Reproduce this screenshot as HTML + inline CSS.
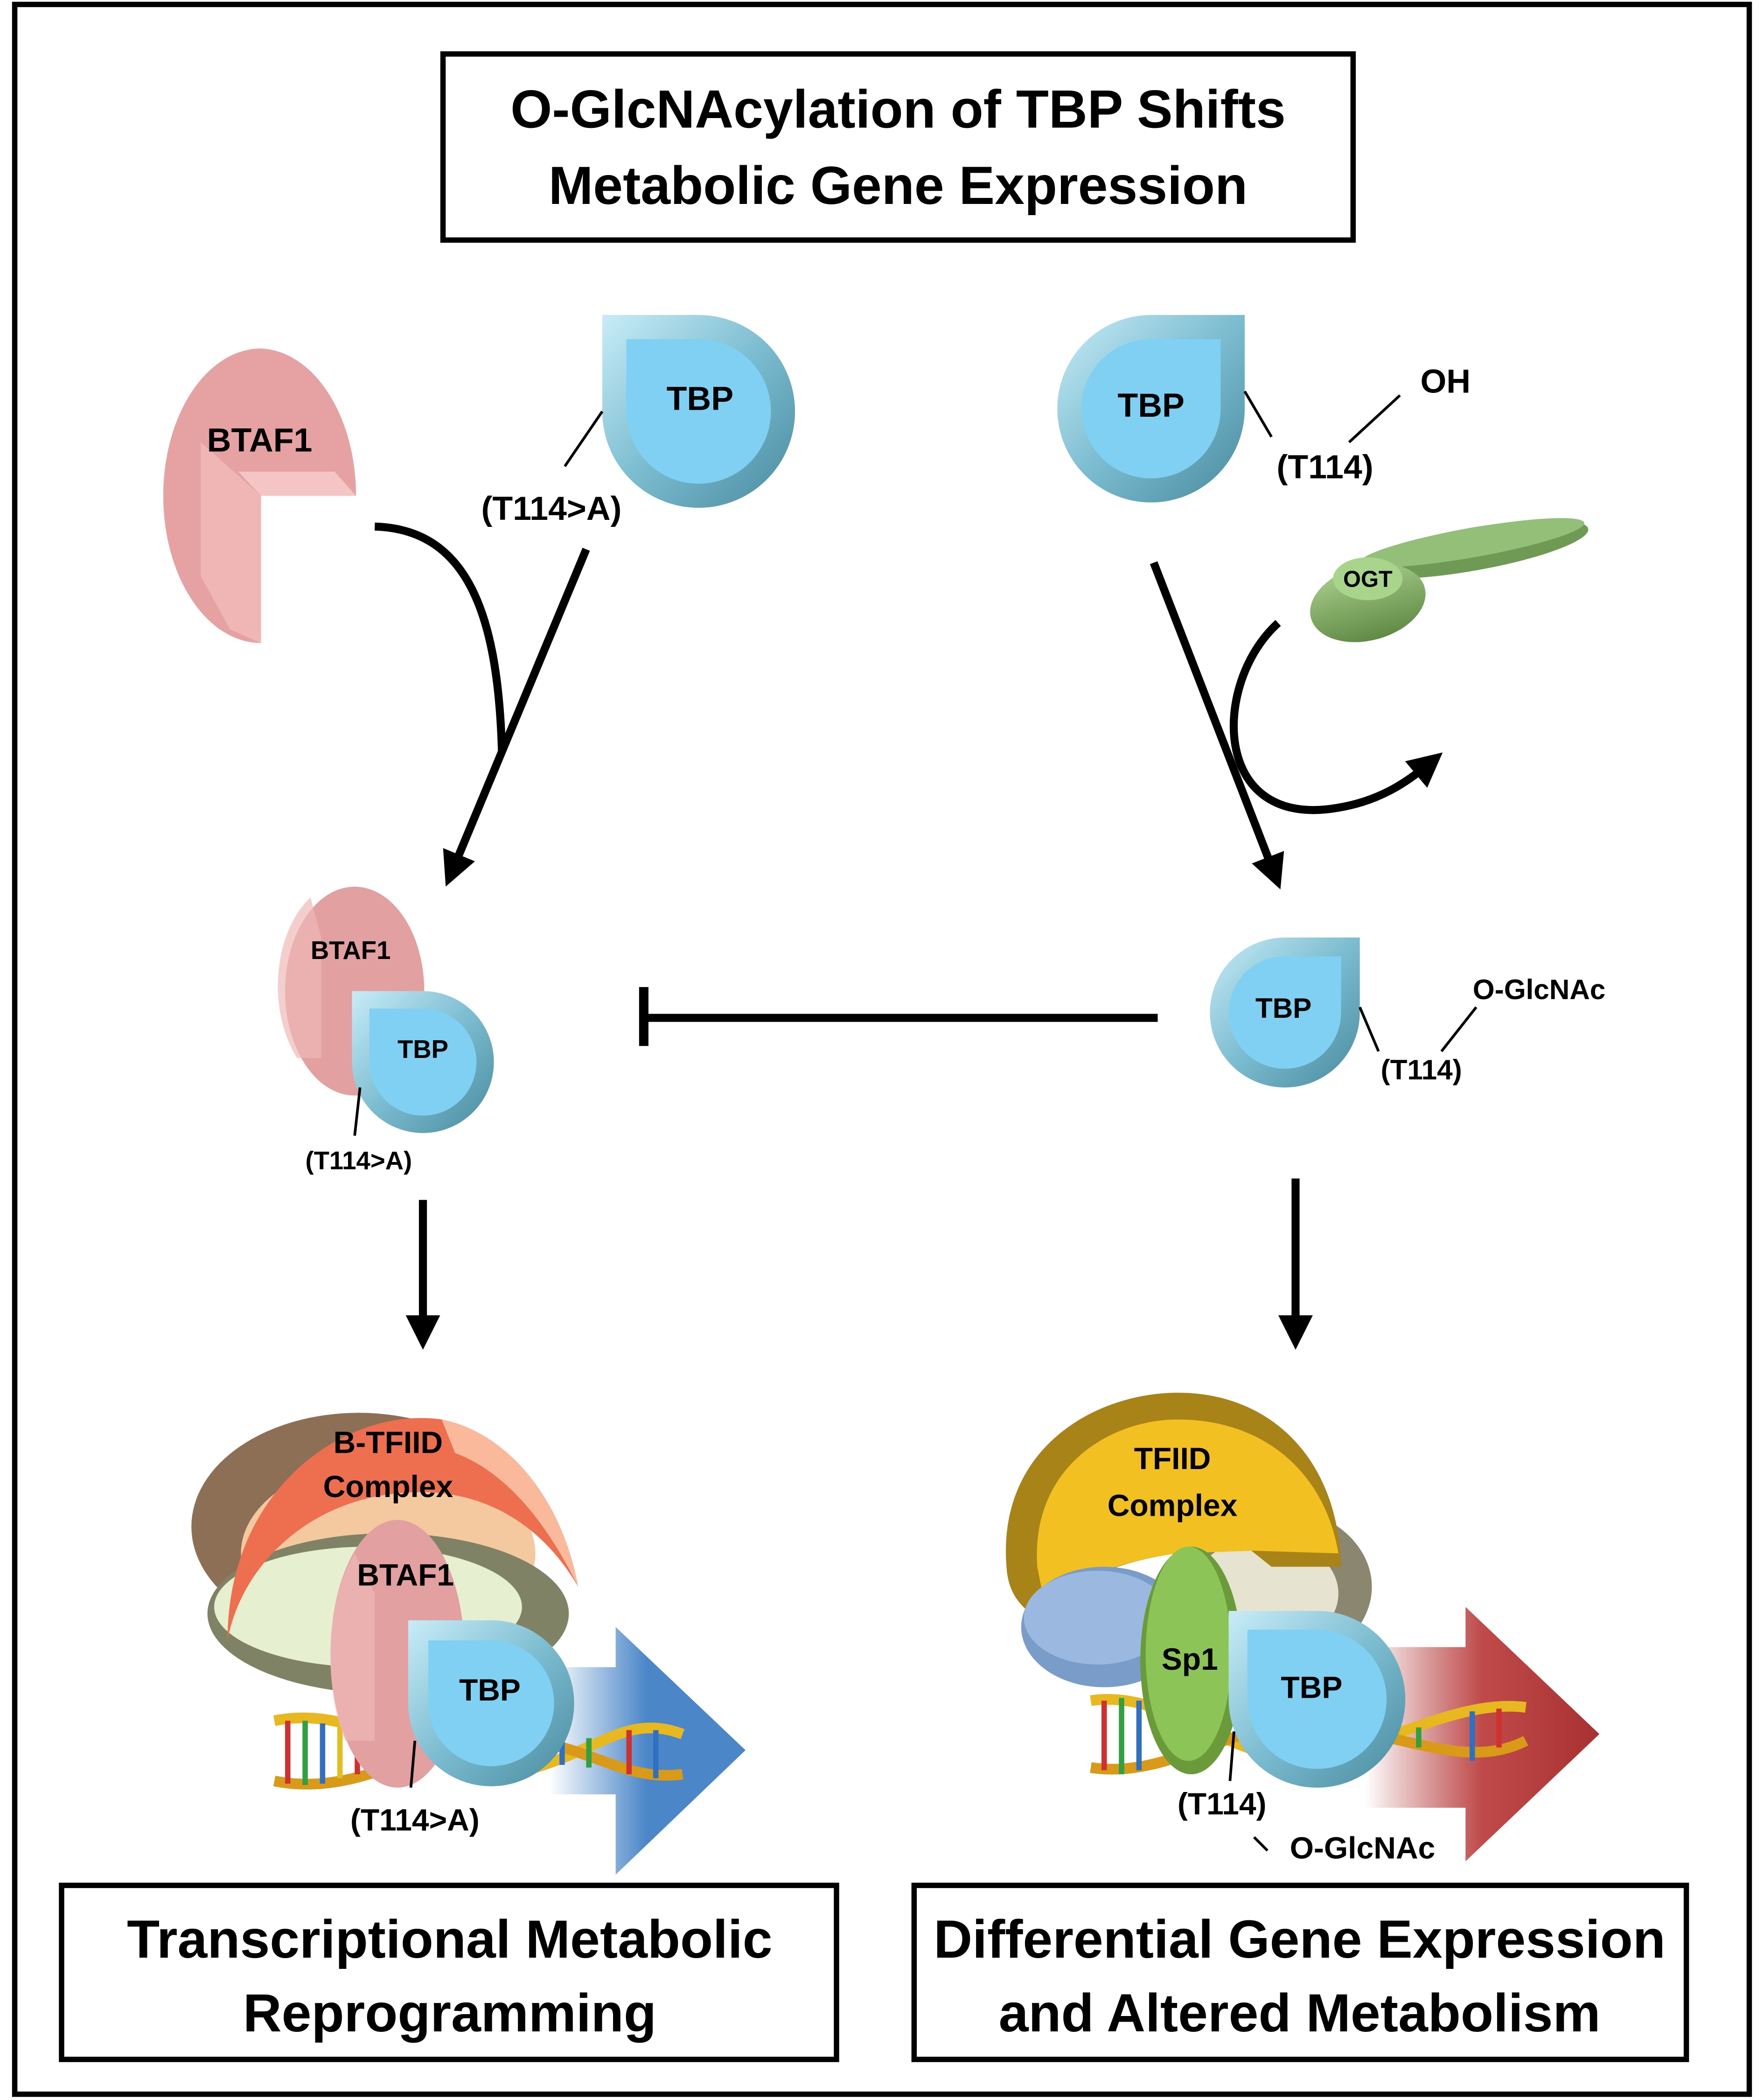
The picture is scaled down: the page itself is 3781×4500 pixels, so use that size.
<!DOCTYPE html>
<html><head><meta charset="utf-8"><style>
html,body{margin:0;padding:0;background:#fff}
svg{display:block}
text{font-family:"Liberation Sans",sans-serif;font-weight:bold;fill:#000}
</style></head><body>
<svg width="3781" height="4500" viewBox="0 0 1318 1568" xmlns="http://www.w3.org/2000/svg">
<defs>
<marker id="ah" viewBox="0 0 10 10" refX="5" refY="5" markerWidth="4.3" markerHeight="4.3" orient="auto-start-reverse">
<path d="M0,0 L10,5 L0,10 Z" fill="#000"/></marker>
<linearGradient id="tbpEdge" x1="0" y1="0" x2="1" y2="1">
<stop offset="0" stop-color="#c8ecf7"/><stop offset="0.5" stop-color="#7bbcd0"/><stop offset="1" stop-color="#4a8a9e"/></linearGradient>
<linearGradient id="blueArrow" x1="0" y1="0" x2="1" y2="0">
<stop offset="0" stop-color="#4a86c8" stop-opacity="0"/><stop offset="0.5" stop-color="#4a86c8"/><stop offset="1" stop-color="#4a86c8"/></linearGradient>
<linearGradient id="redArrow" x1="0" y1="0" x2="1" y2="0">
<stop offset="0" stop-color="#b03838" stop-opacity="0"/><stop offset="0.5" stop-color="#c04a4a"/><stop offset="1" stop-color="#a83030"/></linearGradient>
<linearGradient id="ogt" x1="0" y1="0" x2="0" y2="1">
<stop offset="0" stop-color="#a6cc88"/><stop offset="1" stop-color="#5f8a45"/></linearGradient>
</defs>
<rect x="0" y="0" width="1318" height="1568" fill="#fff"/>
<rect x="11" y="3" width="1296" height="1561" fill="none" stroke="#000" stroke-width="4"/>

<rect x="331" y="40" width="680" height="139" fill="#fff" stroke="#000" stroke-width="4"/>
<text x="671" y="95" font-size="40" text-anchor="middle">O-GlcNAcylation of TBP Shifts</text>
<text x="671" y="152" font-size="40" text-anchor="middle">Metabolic Gene Expression</text>

<!-- BTAF1 top -->
<path d="M195,260 A73,110 0 1 0 195,480 L195,370 L266,370 A73,110 0 0 0 195,260 Z" fill="#e6a2a2"/>
<path d="M150,330 L195,370 L195,480 L172,470 L150,430 Z" fill="#f0b5b5"/>
<path d="M195,370 L266,370 L250,352 L178,352 Z" fill="#f5c4c4"/>
<text x="194" y="337" font-size="25" text-anchor="middle">BTAF1</text>

<path d="M450,235 L522,235 A72,72 0 1 1 450,307 Z" fill="url(#tbpEdge)"/>
<path d="M468,253 L522,253 A54,54 0 1 1 468,307 Z" fill="#7fd0f2"/>
<text x="523" y="306" font-size="25" text-anchor="middle">TBP</text>
<line x1="450" y1="307" x2="422" y2="348" stroke="#000" stroke-width="2"/>
<text x="412" y="388" font-size="25" text-anchor="middle">(T114&gt;A)</text>

<path d="M930,235 L860,235 A70,70 0 1 0 930,305 Z" fill="url(#tbpEdge)"/>
<path d="M912,253 L860,253 A52,52 0 1 0 912,305 Z" fill="#7fd0f2"/>
<text x="860" y="311" font-size="25" text-anchor="middle">TBP</text>
<line x1="930" y1="292" x2="950" y2="326" stroke="#000" stroke-width="2"/>
<text x="990" y="357" font-size="25" text-anchor="middle">(T114)</text>
<line x1="1008" y1="330" x2="1046" y2="295" stroke="#000" stroke-width="2"/>
<text x="1080" y="293" font-size="25" text-anchor="middle">OH</text>

<ellipse cx="1100" cy="410" rx="88" ry="16" transform="rotate(-10 1100 410)" fill="#6f9a55"/>
<ellipse cx="1100" cy="405" rx="85" ry="11" transform="rotate(-10 1100 405)" fill="#94bf78"/>
<ellipse cx="1022" cy="450" rx="44" ry="28" transform="rotate(-15 1022 450)" fill="url(#ogt)"/>
<ellipse cx="1022" cy="432" rx="26" ry="16" fill="#a8d48c"/>
<text x="1022" y="438" font-size="17" text-anchor="middle">OGT</text>

<path d="M280,393 C350,395 372,460 375,560" fill="none" stroke="#000" stroke-width="6"/>
<line x1="438" y1="410" x2="338" y2="650" stroke="#000" stroke-width="6" marker-end="url(#ah)"/>
<line x1="862" y1="420" x2="952" y2="652" stroke="#000" stroke-width="6" marker-end="url(#ah)"/>
<path d="M955,465 C905,510 905,620 1000,603 C1030,598 1050,585 1068,570" fill="none" stroke="#000" stroke-width="6" marker-end="url(#ah)"/>

<ellipse cx="265" cy="740" rx="52" ry="78" fill="#e2a0a0"/>
<path d="M232,670 A52,78 0 0 0 222,790 L240,790 L240,700 Z" fill="#f0b8b8" opacity="0.7"/>
<text x="262" y="716" font-size="19" text-anchor="middle">BTAF1</text>
<path d="M263,740 L315,740 A53,53 0 1 1 263,793 Z" fill="url(#tbpEdge)"/>
<path d="M276,753 L315,753 A40,40 0 1 1 276,793 Z" fill="#7fd0f2"/>
<text x="316" y="790" font-size="19" text-anchor="middle">TBP</text>
<line x1="269" y1="812" x2="265" y2="848" stroke="#000" stroke-width="2"/>
<text x="268" y="873" font-size="19" text-anchor="middle">(T114&gt;A)</text>

<line x1="480" y1="760" x2="865" y2="760" stroke="#000" stroke-width="6"/>
<line x1="481" y1="737" x2="481" y2="781" stroke="#000" stroke-width="7"/>

<path d="M1016,700 L960,700 A56,56 0 1 0 1016,756 Z" fill="url(#tbpEdge)"/>
<path d="M1002,714 L960,714 A42,42 0 1 0 1002,756 Z" fill="#7fd0f2"/>
<text x="959" y="760" font-size="21" text-anchor="middle">TBP</text>
<line x1="1016" y1="752" x2="1030" y2="785" stroke="#000" stroke-width="2"/>
<text x="1062" y="806" font-size="21" text-anchor="middle">(T114)</text>
<line x1="1077" y1="785" x2="1103" y2="752" stroke="#000" stroke-width="2"/>
<text x="1150" y="746" font-size="21" text-anchor="middle">O-GlcNAc</text>

<line x1="316" y1="896" x2="316" y2="995" stroke="#000" stroke-width="6" marker-end="url(#ah)"/>
<line x1="968" y1="880" x2="968" y2="995" stroke="#000" stroke-width="6" marker-end="url(#ah)"/>

<ellipse cx="268" cy="1140" rx="125" ry="85" fill="#8c6f55"/>
<ellipse cx="290" cy="1160" rx="110" ry="70" fill="#f5c9a0"/>
<ellipse cx="290" cy="1205" rx="135" ry="60" fill="#7f8265"/>
<ellipse cx="275" cy="1200" rx="115" ry="45" fill="#e6f0d0"/>
<path d="M170,1225 C170,1110 260,1050 330,1060 C380,1070 420,1120 432,1185 C400,1130 350,1110 300,1115 C230,1120 180,1170 170,1225 Z" fill="#ee6e50"/>
<path d="M330,1060 C380,1070 420,1120 432,1185 C410,1140 380,1100 340,1085 Z" fill="#f9b99a"/>
<text x="290" y="1085" font-size="23" text-anchor="middle">B-TFIID</text>
<text x="290" y="1118" font-size="23" text-anchor="middle">Complex</text>
<path d="M460,1215 L460,1245 L410,1245 L410,1340 L460,1340 L460,1400 L557,1307 Z" fill="url(#blueArrow)"/>
<path d="M205,1285 C280,1270 330,1340 400,1320 C450,1305 470,1280 510,1295" fill="none" stroke="#e8b820" stroke-width="8"/>
<path d="M205,1330 C280,1345 330,1285 400,1300 C450,1310 470,1330 510,1325" fill="none" stroke="#d89a18" stroke-width="8"/>
<g stroke-width="4">
<line x1="215" y1="1285" x2="215" y2="1332" stroke="#d03030"/>
<line x1="228" y1="1285" x2="228" y2="1333" stroke="#30a040"/>
<line x1="241" y1="1287" x2="241" y2="1332" stroke="#3070c0"/>
<line x1="254" y1="1290" x2="254" y2="1328" stroke="#e0c020"/>
<line x1="267" y1="1293" x2="267" y2="1325" stroke="#d03030"/>
<line x1="420" y1="1300" x2="420" y2="1318" stroke="#3070c0"/>
<line x1="440" y1="1298" x2="440" y2="1320" stroke="#30a040"/>
<line x1="470" y1="1292" x2="470" y2="1325" stroke="#d03030"/>
<line x1="490" y1="1292" x2="490" y2="1328" stroke="#3070c0"/>
</g>
<ellipse cx="297" cy="1235" rx="50" ry="100" fill="#e2a0a0"/>
<path d="M265,1160 A50,100 0 0 0 258,1300 L280,1300 L280,1190 Z" fill="#f0b8b8" opacity="0.7"/>
<text x="303" y="1184" font-size="23" text-anchor="middle">BTAF1</text>
<path d="M305,1210 L365,1210 A62,62 0 1 1 305,1272 Z" fill="url(#tbpEdge)"/>
<path d="M320,1225 L365,1225 A47,47 0 1 1 320,1272 Z" fill="#7fd0f2"/>
<text x="366" y="1270" font-size="23" text-anchor="middle">TBP</text>
<line x1="310" y1="1300" x2="307" y2="1335" stroke="#000" stroke-width="2"/>
<text x="310" y="1367" font-size="23" text-anchor="middle">(T114&gt;A)</text>

<ellipse cx="950" cy="1185" rx="75" ry="60" fill="#8a8670"/>
<ellipse cx="945" cy="1190" rx="55" ry="42" fill="#e6e4d0"/>
<path d="M752,1170 C745,1080 820,1040 880,1040 C950,1040 1000,1090 1002,1170 L950,1170 L935,1158 L880,1160 C840,1165 800,1180 770,1205 C758,1195 753,1185 752,1170 Z" fill="#a88418"/>
<path d="M775,1170 C770,1095 830,1060 880,1060 C945,1060 990,1100 1000,1160 L935,1158 L880,1160 C840,1165 800,1180 780,1195 Z" fill="#f2c020"/>
<text x="876" y="1097" font-size="23" text-anchor="middle">TFIID</text>
<text x="876" y="1132" font-size="23" text-anchor="middle">Complex</text>
<ellipse cx="825" cy="1215" rx="62" ry="45" fill="#7a9cc8"/>
<ellipse cx="820" cy="1208" rx="55" ry="35" fill="#9ab8e0"/>
<path d="M1095,1200 L1095,1230 L1020,1230 L1020,1350 L1095,1350 L1095,1390 L1195,1295 Z" fill="url(#redArrow)"/>
<path d="M815,1270 C880,1260 930,1330 1000,1310 C1060,1290 1100,1270 1140,1275" fill="none" stroke="#e8b820" stroke-width="8"/>
<path d="M815,1320 C880,1330 930,1275 1000,1290 C1060,1300 1100,1320 1140,1300" fill="none" stroke="#d89a18" stroke-width="8"/>
<g stroke-width="4">
<line x1="825" y1="1270" x2="825" y2="1322" stroke="#d03030"/>
<line x1="838" y1="1268" x2="838" y2="1325" stroke="#30a040"/>
<line x1="851" y1="1270" x2="851" y2="1322" stroke="#3070c0"/>
<line x1="1060" y1="1290" x2="1060" y2="1305" stroke="#30a040"/>
<line x1="1100" y1="1278" x2="1100" y2="1315" stroke="#3070c0"/>
<line x1="1120" y1="1276" x2="1120" y2="1305" stroke="#d03030"/>
</g>
<ellipse cx="890" cy="1240" rx="38" ry="85" fill="#6a9a3a"/>
<ellipse cx="888" cy="1235" rx="32" ry="80" fill="#8cc458"/>
<text x="889" y="1247" font-size="23" text-anchor="middle">Sp1</text>
<path d="M918,1203 L985,1203 A66,66 0 1 1 918,1269 Z" fill="url(#tbpEdge)"/>
<path d="M932,1217 L985,1217 A52,52 0 1 1 932,1269 Z" fill="#7fd0f2"/>
<text x="980" y="1268" font-size="23" text-anchor="middle">TBP</text>
<line x1="922" y1="1293" x2="919" y2="1330" stroke="#000" stroke-width="2"/>
<text x="913" y="1355" font-size="23" text-anchor="middle">(T114)</text>
<line x1="937" y1="1372" x2="947" y2="1382" stroke="#000" stroke-width="2"/>
<text x="1018" y="1388" font-size="23" text-anchor="middle">O-GlcNAc</text>

<rect x="46" y="1408" width="579" height="130" fill="#fff" stroke="#000" stroke-width="4"/>
<text x="336" y="1462" font-size="40" text-anchor="middle">Transcriptional Metabolic</text>
<text x="336" y="1517" font-size="40" text-anchor="middle">Reprogramming</text>
<rect x="683" y="1408" width="577" height="130" fill="#fff" stroke="#000" stroke-width="4"/>
<text x="971" y="1462" font-size="40" text-anchor="middle">Differential Gene Expression</text>
<text x="971" y="1517" font-size="40" text-anchor="middle">and Altered Metabolism</text>
</svg>
</body></html>
